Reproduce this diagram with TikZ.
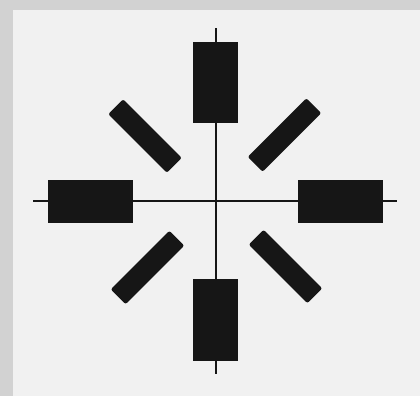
\documentclass[tikz,border=0pt]{standalone}
\usetikzlibrary{positioning}
\definecolor{frameGray}{RGB}{210,210,210}
\definecolor{panelGray}{RGB}{241,241,241}
\definecolor{barBlack}{RGB}{22,22,22}
\begin{document}
\begin{tikzpicture}[x=0.02cm,y=-0.02cm,
    bar/.style={fill=barBlack,inner sep=0pt,outer sep=0pt},
    axisbar/.style={bar,minimum width=0.9cm,minimum height=1.63cm},
    crossbar/.style={bar,minimum width=1.72cm,minimum height=0.86cm},
    slantbar/.style={bar,rounded corners=1.2pt,minimum width=1.66cm,minimum height=0.42cm},
    axis/.style={barBlack,line width=1.6pt}]
  % background
  \fill[frameGray] (0,0) rectangle (420,396);
  \fill[panelGray] (13,10) rectangle (420,396);
  % axes
  \coordinate (top end) at (216,28);
  \coordinate (bottom end) at (216,374);
  \coordinate (left end) at (33,201);
  \coordinate (right end) at (397,201);
  \draw[axis] (top end) -- (bottom end);
  \draw[axis] (left end) -- (right end);
  % bars on the axes
  \node[axisbar] (top bar) at (215.5,82.5) {};
  \node[axisbar] (bottom bar) at (215.5,320) {};
  \node[crossbar] (left bar) at (90.5,201.5) {};
  \node[crossbar] (right bar) at (340.5,201.5) {};
  % slanted bars
  \node[slantbar,rotate=-45] (nw bar) at (145,136) {};
  \node[slantbar,rotate=45] (ne bar) at (284.5,135) {};
  \node[slantbar,rotate=45] (sw bar) at (147.5,267.5) {};
  \node[slantbar,rotate=-45] (se bar) at (285.5,266.5) {};
\end{tikzpicture}
\end{document}
